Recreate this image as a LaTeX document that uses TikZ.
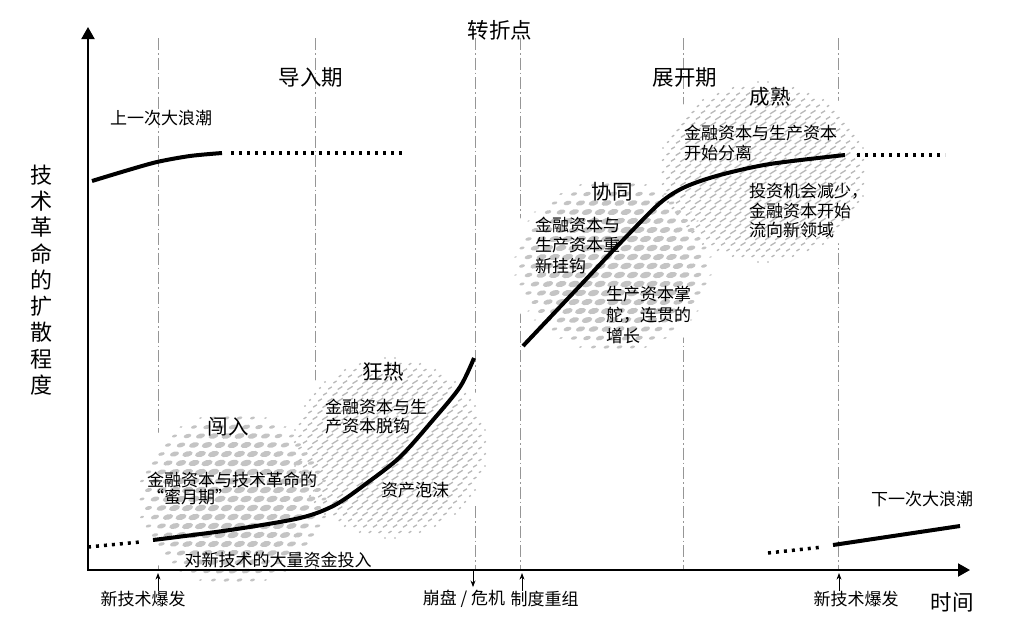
\documentclass[tikz,border=0pt]{standalone}
\usepackage{fontspec}
\setmainfont{Noto Sans CJK SC}
\usetikzlibrary{arrows.meta, positioning}
\definecolor{blobgray}{RGB}{196,196,196}
\definecolor{hatchgray}{RGB}{184,184,184}
\definecolor{linegray}{RGB}{150,150,150}

\begin{document}
\begin{tikzpicture}[x=1pt, y=-1pt, >=Stealth,
  lbl/.style={inner sep=0pt, font=\fontsize{17}{20.5}\selectfont},
  big/.style={inner sep=0pt, font=\fontsize{21.5}{26}\selectfont},
  vline/.style={linegray, line width=1pt, dash pattern=on 12pt off 3pt on 1.5pt off 3pt},
  axisline/.style={line width=2pt, {Triangle[length=12pt,width=13pt]}-{Triangle[length=12pt,width=13pt]}},
  tickarrow/.style={->, line width=0.8pt, shorten >=3pt},
  wave/.style={line width=4pt},
  dots/.style={line width=3.5pt, dash pattern=on 3pt off 5pt},
  blob/.style={fill=blobgray},
  hatch/.style={hatchgray, line width=1.3pt}]
  \useasboundingbox (0,0) rectangle (1024,629);

  % phase borders
  \foreach \x in {158,315,475,520,683,838}
    \draw[vline] (\x,38) -- (\x,570);

  % clouds: white ground
  \foreach \cx/\cy/\rx/\ry in {233/499/100/91, 390/448/100/93, 613/266/103/91, 763/172/107/93}
    \fill[white] (\cx,\cy) ellipse [x radius=\rx+4, y radius=\ry+4];

  % hatched clouds (frenzy, maturity)
  \foreach \cx/\cy/\rx/\ry in {390/448/100/93, 763/172/107/93}
    \foreach \i in {-11,...,11}
      \foreach \j in {-16,...,16} {
        \pgfmathsetmacro{\hx}{\cx+10*\i+5*abs(mod(\j,2))}
        \pgfmathsetmacro{\hy}{\cy+6*\j}
        \pgfmathsetmacro{\sc}{1-(((\hx-\cx)/\rx)^2+((\hy-\cy)/\ry)^2)^3}
        \ifdim\sc pt>0.15pt
          \draw[hatch] (\hx-3.3*\sc,\hy+2.1*\sc) -- (\hx+3.3*\sc,\hy-2.1*\sc);
        \fi
      }

  % dotted clouds (irruption, synergy)
  \foreach \cx/\cy/\rx/\ry in {233/499/100/91, 613/266/103/91}
    \foreach \i in {-8,...,8}
      \foreach \j in {-10,...,10} {
        \pgfmathsetmacro{\bx}{\cx+13*\i+6.5*abs(mod(\j,2))}
        \pgfmathsetmacro{\by}{\cy+9*\j}
        \pgfmathsetmacro{\sc}{1-(((\bx-\cx)/\rx)^2+((\by-\cy)/\ry)^2)^3}
        \ifdim\sc pt>0.2pt
          \fill[blob, rotate around={15:(\bx,\by)}] (\bx,\by) ellipse [x radius=5.8*\sc, y radius=3*\sc];
        \fi
      }

  % axes
  \coordinate (O) at (88,570);
  \coordinate (ytop) at (88,27);
  \coordinate (xend) at (970,570);
  \draw[axisline] (ytop) -- (O) -- (xend);

  % waves
  \draw[wave] plot[smooth] coordinates {(92,181) (125,171) (157,162) (190,156) (222,153)};
  \draw[dots] (231,153) -- (405,153);
  \draw[dots] (88,547) -- (140,542);
  \draw[wave] plot[smooth] coordinates {(153,540) (230,530) (300,518) (335,505) (367,483) (400,457) (433,420) (460,387) (474,358)};
  \draw[wave] plot[smooth] coordinates {(523,346) (575,291) (625,238) (660,203) (685,187) (720,175) (770,164) (845,155)};
  \draw[dots] (857,155) -- (945,155);
  \draw[dots] (768,553) -- (823,547);
  \draw[wave] (833,545) -- (960,526);

  % axis labels
  \node[inner sep=0pt, align=center, font=\fontsize{22}{26.3}\selectfont] (ylab) at (41,280)
    {技\\术\\革\\命\\的\\扩\\散\\程\\度};
  \node[big] (xlab) at (952,602) {时间};

  % time marks
  \coordinate (t1) at (158,570);
  \coordinate (t2) at (473,570);
  \coordinate (t3) at (522,570);
  \coordinate (t4) at (839,570);
  \node[lbl] (burst1) at (143,599) {新技术爆发};
  \node[lbl] (crash) at (464,599) {崩盘 / 危机};
  \node[lbl, right=5pt of crash] (reorg) {制度重组};
  \node[lbl] (burst2) at (856,599) {新技术爆发};
  \draw[tickarrow] (burst1.north -| t1) -- (t1);
  \draw[tickarrow] (t2) -- (crash.north -| t2);
  \draw[tickarrow] (reorg.north -| t3) -- (t3);
  \draw[tickarrow] (burst2.north -| t4) -- (t4);

  % periods
  \node[big] (turn) at (500,30) {转折点};
  \node[big] (install) at (311,78) {导入期};
  \node[big] (deploy) at (685,78) {展开期};
  \node[lbl] (prev) at (161,118) {上一次大浪潮};
  \node[lbl] (next) at (922,499) {下一次大浪潮};

  % phases
  \node[big, font=\fontsize{20.5}{24}\selectfont] (irrupt) at (228,427) {闯入};
  \node[lbl, align=left, anchor=west] (honey) at (147,488) {金融资本与技术革命的\\[-3.5pt]“蜜月期”};
  \node[lbl] (invest) at (278,560) {对新技术的大量资金投入};
  \node[big, font=\fontsize{20.5}{24}\selectfont] (frenzy) at (383,372) {狂热};
  \node[lbl, align=left, anchor=west] (decouple) at (325,416.5) {金融资本与生\\[-1pt]产资本脱钩};
  \node[lbl] (bubble) at (415,490) {资产泡沫};
  \node[big, font=\fontsize{20.5}{24}\selectfont] (synergy) at (612,192) {协同};
  \node[lbl, align=left, anchor=west] (recouple) at (535,245) {金融资本与\\生产资本重\\新挂钩};
  \node[lbl, align=left, anchor=west] (steer) at (606,315) {生产资本掌\\舵，连贯的\\增长};
  \node[big, font=\fontsize{20.5}{24}\selectfont] (mature) at (770,97) {成熟};
  \node[lbl, align=left, anchor=west] (split) at (684,143) {金融资本与生产资本\\[-0.5pt]开始分离};
  \node[lbl, align=left, anchor=west] (shift) at (749,211) {投资机会减少，\\[-1pt]金融资本开始\\[-1pt]流向新领域};
\end{tikzpicture}
\end{document}
